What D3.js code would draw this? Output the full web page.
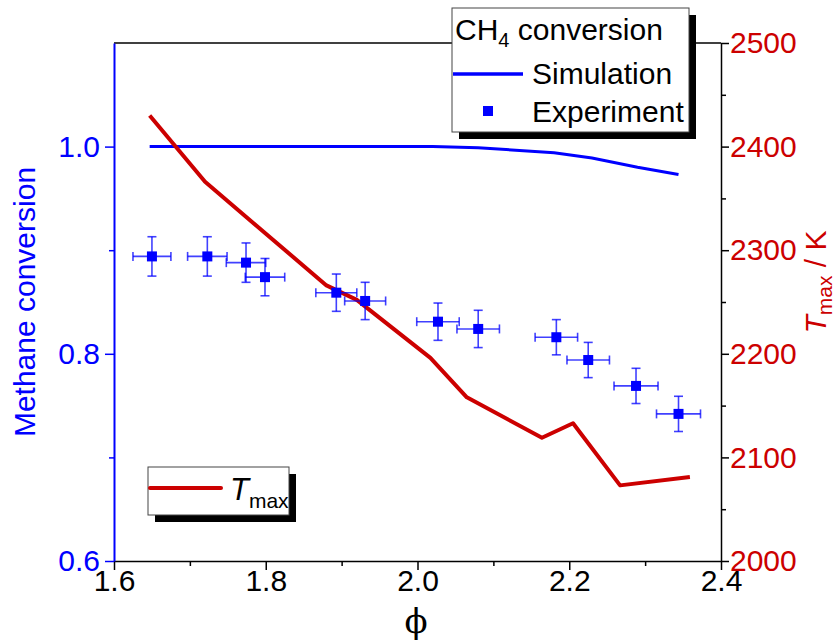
<!DOCTYPE html>
<html><head><meta charset="utf-8">
<script src="https://cdn.jsdelivr.net/npm/d3@7/dist/d3.min.js"></script>
<style>body{margin:0;background:#fff}svg{display:block}text{font-family:"Liberation Sans",Arial,sans-serif}</style>
</head><body>
<svg id="c" width="837" height="642"></svg>
<script>
// Simulation: CH4 conversion
const simPhi = [1.647, 1.72, 1.77, 1.80, 1.89, 1.93, 2.02, 2.08, 2.18, 2.23, 2.29, 2.344];
const simConv = [1.0, 1.0, 1.0, 1.0, 1.0, 1.0, 1.0, 0.999, 0.994, 0.989, 0.980, 0.973];
// Experiment
const expPhi = [1.650, 1.723, 1.774, 1.799, 1.893, 1.931, 2.027, 2.080, 2.183, 2.225, 2.288, 2.344];
const expConv = [0.894, 0.894, 0.888, 0.874, 0.859, 0.851, 0.831, 0.824, 0.816, 0.794, 0.769, 0.742];
const expXErr = [0.025, 0.026, 0.026, 0.026, 0.027, 0.027, 0.028, 0.028, 0.028, 0.028, 0.029, 0.029];
const expYErr = [0.019, 0.019, 0.019, 0.018, 0.018, 0.018, 0.018, 0.018, 0.017, 0.017, 0.017, 0.017];
// Tmax
const tPhi = [1.647, 1.720, 1.880, 1.920, 2.017, 2.065, 2.164, 2.205, 2.267, 2.359];
const tMax = [2430, 2366, 2266, 2252, 2196, 2158, 2119, 2133, 2073, 2081];
// ticks
const xTicks = [1.6, 1.8, 2.0, 2.2, 2.4];
const xMinor = [1.7, 1.9, 2.1, 2.3];
const yLTicks = [0.6, 0.8, 1.0];
const yLMinor = [0.7, 0.9];
const yRTicks = [2000, 2100, 2200, 2300, 2400, 2500];
const yRMinor = [2050, 2150, 2250, 2350, 2450];

const L = 114, R = 721, T = 43, B = 561;
const BLUE = "#0000ff", RED = "#cc0000";
const FS = 30;
const svg = d3.select("#c");
const x = d3.scaleLinear().domain([1.6, 2.4]).range([L, R]);
const yL = d3.scaleLinear().domain([0.6, 1.1]).range([B, T]);
const yR = d3.scaleLinear().domain([2000, 2500]).range([B, T]);

// frame
svg.append("line").attr("x1", L).attr("x2", R).attr("y1", T).attr("y2", T).attr("stroke", "#000").attr("stroke-width", 1.5);

// x axis
const gx = svg.append("g").attr("transform", `translate(0,${B})`)
  .call(d3.axisBottom(x).tickValues(xTicks).tickFormat(d3.format(".1f")).tickSize(9).tickSizeOuter(0));
gx.select(".domain").attr("stroke", "#000").attr("stroke-width", 1.5);
gx.selectAll(".tick line").attr("stroke-width", 1.5);
gx.selectAll(".tick text").attr("font-size", FS).attr("dy", "0.71em").attr("y", 9).attr("fill", "#000");
svg.append("g").attr("transform", `translate(0,${B})`)
  .call(d3.axisBottom(x).tickValues(xMinor).tickFormat("").tickSize(5).tickSizeOuter(0))
  .call(g => g.select(".domain").remove()).selectAll("line").attr("stroke-width", 1.5);

// right axis
const gr = svg.append("g").attr("transform", `translate(${R},0)`)
  .call(d3.axisRight(yR).tickValues(yRTicks).tickFormat(d3.format("d")).tickSize(8).tickSizeOuter(0));
gr.select(".domain").attr("stroke", "#000").attr("stroke-width", 1.5);
gr.selectAll(".tick line").attr("stroke-width", 1.5);
gr.selectAll(".tick text").attr("font-size", FS).attr("fill", RED).attr("x", 9);
svg.append("g").attr("transform", `translate(${R},0)`)
  .call(d3.axisRight(yR).tickValues(yRMinor).tickFormat("").tickSize(5).tickSizeOuter(0))
  .call(g => g.select(".domain").remove()).selectAll("line").attr("stroke-width", 1.5);

// left axis
const gl = svg.append("g").attr("transform", `translate(${L},0)`)
  .call(d3.axisLeft(yL).tickValues(yLTicks).tickFormat(d3.format(".1f")).tickSize(9).tickSizeOuter(0));
gl.select(".domain").attr("stroke", BLUE).attr("stroke-width", 2);
gl.selectAll(".tick line").attr("stroke", BLUE).attr("stroke-width", 1.5);
gl.selectAll(".tick text").attr("font-size", FS).attr("fill", BLUE).attr("x", -14);
svg.append("g").attr("transform", `translate(${L},0)`)
  .call(d3.axisLeft(yL).tickValues(yLMinor).tickFormat("").tickSize(5).tickSizeOuter(0))
  .call(g => g.select(".domain").remove()).selectAll("line").attr("stroke", BLUE).attr("stroke-width", 1.5);

// axis titles
svg.append("text").attr("transform", "translate(35,302) rotate(-90)").attr("text-anchor", "middle")
  .attr("font-size", FS).attr("fill", BLUE).text("Methane conversion");
const rt = svg.append("text").attr("transform", "translate(826,282) rotate(-90)").attr("text-anchor", "middle")
  .attr("font-size", FS).attr("fill", RED);
rt.append("tspan").attr("font-style", "italic").text("T");
rt.append("tspan").attr("font-size", 21).attr("dy", 6).text("max");
rt.append("tspan").attr("dy", -6).text(" / K");
svg.append("text").attr("x", 416).attr("y", 633).attr("text-anchor", "middle")
  .attr("font-size", 34).style("font-family", "'DejaVu Serif', serif").text("ϕ");

// simulation line
svg.append("path").datum(simPhi.map((p, i) => [p, simConv[i]]))
  .attr("d", d3.line().x(d => x(d[0])).y(d => yL(d[1])))
  .attr("fill", "none").attr("stroke", BLUE).attr("stroke-width", 3);

// Tmax line
svg.append("path").datum(tPhi.map((p, i) => [p, tMax[i]]))
  .attr("d", d3.line().x(d => x(d[0])).y(d => yR(d[1])))
  .attr("fill", "none").attr("stroke", RED).attr("stroke-width", 4).attr("stroke-linejoin", "round");

// experiment points with error bars
const eg = svg.append("g");
expPhi.forEach((p, i) => {
  const cx = x(p), cy = yL(expConv[i]);
  const x0 = x(p - expXErr[i]), x1 = x(p + expXErr[i]);
  const y0 = yL(expConv[i] - expYErr[i]), y1 = yL(expConv[i] + expYErr[i]);
  const g = eg.append("g").attr("stroke", BLUE).attr("stroke-width", 1.6).attr("stroke-opacity", 0.75);
  g.append("line").attr("x1", x0).attr("x2", x1).attr("y1", cy).attr("y2", cy);
  g.append("line").attr("x1", x0).attr("x2", x0).attr("y1", cy - 4.5).attr("y2", cy + 4.5);
  g.append("line").attr("x1", x1).attr("x2", x1).attr("y1", cy - 4.5).attr("y2", cy + 4.5);
  g.append("line").attr("x1", cx).attr("x2", cx).attr("y1", y0).attr("y2", y1);
  g.append("line").attr("x1", cx - 4.5).attr("x2", cx + 4.5).attr("y1", y0).attr("y2", y0);
  g.append("line").attr("x1", cx - 4.5).attr("x2", cx + 4.5).attr("y1", y1).attr("y2", y1);
  eg.append("rect").attr("x", cx - 5).attr("y", cy - 5).attr("width", 10).attr("height", 10).attr("fill", BLUE);
});

// legend 1
svg.append("rect").attr("x", 459).attr("y", 15).attr("width", 237).attr("height", 124).attr("fill", "#000");
svg.append("rect").attr("x", 452).attr("y", 8).attr("width", 237).attr("height", 124).attr("fill", "#fff").attr("stroke", "#444").attr("stroke-width", 1);
const lt = svg.append("text").attr("x", 455).attr("y", 40).attr("font-size", FS);
lt.append("tspan").text("CH");
lt.append("tspan").attr("font-size", 20).attr("dy", 7).text("4");
lt.append("tspan").attr("dy", -7).text(" conversion");
svg.append("line").attr("x1", 453).attr("x2", 523).attr("y1", 74).attr("y2", 74).attr("stroke", BLUE).attr("stroke-width", 3.5);
svg.append("text").attr("x", 532).attr("y", 84).attr("font-size", FS).text("Simulation");
svg.append("rect").attr("x", 483).attr("y", 106).attr("width", 10).attr("height", 10).attr("fill", BLUE);
svg.append("text").attr("x", 532).attr("y", 122).attr("font-size", FS).text("Experiment");

// legend 2
svg.append("rect").attr("x", 155).attr("y", 474).attr("width", 141).attr("height", 48).attr("fill", "#000");
svg.append("rect").attr("x", 148).attr("y", 467).attr("width", 141).attr("height", 48).attr("fill", "#fff").attr("stroke", "#444").attr("stroke-width", 1);
svg.append("line").attr("x1", 150).attr("x2", 221).attr("y1", 488).attr("y2", 488).attr("stroke", RED).attr("stroke-width", 4).attr("stroke-linecap", "round");
const t2 = svg.append("text").attr("x", 230).attr("y", 500).attr("font-size", 31);
t2.append("tspan").attr("font-style", "italic").text("T");
t2.append("tspan").attr("font-size", 21).attr("dy", 8).text("max");
</script>
</body></html>
